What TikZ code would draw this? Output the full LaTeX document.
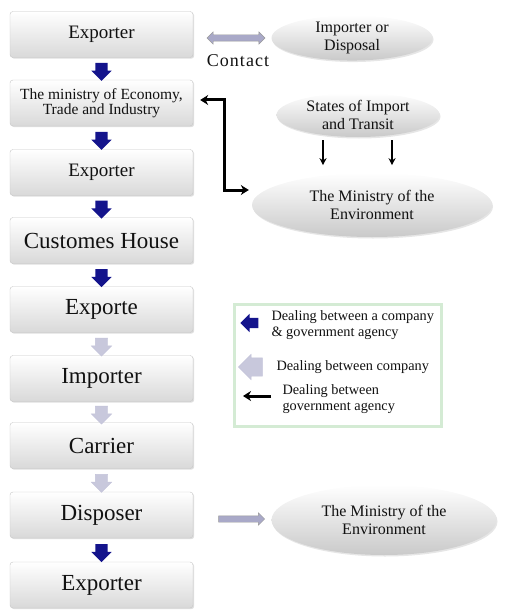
\documentclass[tikz,border=0pt]{standalone}
\usepackage{fontspec}
\setmainfont{Liberation Serif}
\usetikzlibrary{arrows.meta,positioning,calc,shapes.geometric,shapes.arrows,shadows}
\definecolor{Navy}{HTML}{14148C}
\definecolor{Lilac}{HTML}{C8C8DC}
\definecolor{LilacD}{HTML}{A9A9C8}
\definecolor{Edge}{HTML}{A0A0A0}
\definecolor{Mint}{HTML}{D4EBD4}
\definecolor{Ink}{HTML}{111111}
\tikzset{
  stepbox/.style={rectangle,rounded corners=3pt,draw=Edge!60,top color=white,bottom color=gray!30,
    minimum width=183pt,minimum height=46pt,align=center,text=Ink,inner sep=0pt,
    drop shadow={opacity=0.25,shadow xshift=1.2pt,shadow yshift=-1.2pt}},
  oval/.style={ellipse,top color=white,bottom color=gray!42,align=center,inner sep=0pt,text=Ink,
    font=\fontsize{16}{18}\selectfont,
    drop shadow={opacity=0.2,shadow xshift=1pt,shadow yshift=-1.5pt}},
  navyarr/.style={single arrow,shape border rotate=270,fill=Navy,inner xsep=6pt,inner ysep=0pt,
    single arrow head extend=4pt,minimum height=18pt},
  lilacarr/.style={single arrow,shape border rotate=270,fill=Lilac,draw=LilacD!70,line width=0.4pt,
    inner xsep=6pt,inner ysep=0pt,single arrow head extend=4pt,minimum height=18pt},
  govline/.style={draw=black,line width=3pt},
  govtip/.style={govline,{Stealth[length=8pt,width=10pt]}-{Stealth[length=8pt,width=10pt]}},
  legtext/.style={anchor=west,align=left,text=Ink,font=\fontsize{14.3}{16}\selectfont},
}
\begin{document}
\begin{tikzpicture}[x=1pt,y=-1pt]
  \useasboundingbox (0,0) rectangle (504,615);
  % left column of steps
  \foreach \i/\y/\fs/\tx in {1/34.5/19/Exporter,
      2/103/15.5/{The ministry of Economy,\\Trade and Industry},
      3/172.5/19/Exporter, 4/240.5/23/Customes House, 5/309.5/23/Exporte,
      6/378.5/23/Importer, 7/445.5/23/Carrier, 8/515/23/Disposer, 9/585/23/Exporter}
    \node[stepbox,font=\fontsize{\fs}{\fs}\selectfont] (b\i) at (101.5,\y) {\tx};
  \foreach \i/\j/\st in {1/2/navyarr,2/3/navyarr,3/4/navyarr,4/5/navyarr,
      5/6/lilacarr,6/7/lilacarr,7/8/lilacarr,8/9/navyarr}
    \node[\st] (a\i) at ($(b\i.south)!0.5!(b\j.north)$) {};

  % right side
  \node[oval,minimum width=161pt,minimum height=43pt] (imp) at (352,38) {Importer or\\Disposal};
  \node[double arrow,fill=LilacD,draw=gray!80,line width=0.4pt,inner xsep=0pt,inner ysep=3pt,
    double arrow head extend=3pt,minimum height=58pt] (contact) at (236,38) {};
  \node[text=Ink,font=\fontsize{18}{18}\selectfont\addfontfeatures{LetterSpace=6}] (contactlab) at (238,61) {Contact};
  \node[oval,minimum width=163pt,minimum height=44pt] (states) at (358,115) {States of Import\\and Transit};
  \node[oval,minimum width=240pt,minimum height=64pt] (env1) at (372,205) {The Ministry of the\\Environment};
  \draw[govtip] ([xshift=7pt,yshift=3pt]b2.east) -- ++(24,0) |- ([xshift=-3pt,yshift=15pt]env1.west);
  \draw[line width=1.5pt,-{Stealth[length=7pt,width=7pt]}] ([xshift=-35pt,yshift=-3pt]states.south) -- ++(0,25);
  \draw[line width=1.5pt,-{Stealth[length=7pt,width=7pt]}] ([xshift=34pt,yshift=-3pt]states.south) -- ++(0,25);

  % legend
  \node[draw=Mint,line width=3pt,fill=white,minimum width=207pt,minimum height=122pt,inner sep=0pt] (legend) at (338,365.5) {};
  \node[single arrow,shape border rotate=180,fill=Navy,inner xsep=0pt,inner ysep=5pt,
    single arrow head extend=4pt,minimum height=18pt] (legnavy) at (252,323) {};
  \node[legtext] (leg1) at (268,325) {Dealing between a company\\\& government agency};
  \node[single arrow,shape border rotate=180,fill=Lilac,draw=LilacD!70,line width=0.4pt,inner xsep=0pt,
    inner ysep=9pt,single arrow head extend=3.5pt,minimum height=24pt] (leglilac) at (255,367) {};
  \node[legtext] (leg2) at (273,367) {Dealing between company};
  \node[legtext] (leg3) at (279,399) {Dealing between\\government agency};
  \draw[govline,-{Stealth[length=8pt,width=10pt]}] ([xshift=-8pt,yshift=3pt]leg3.west) -- ++(-28,0);

  % bottom right
  \node[oval,minimum width=225pt,minimum height=70pt] (env2) at (384,520) {The Ministry of the\\Environment};
  \node[single arrow,fill=LilacD,draw=gray!80,line width=0.4pt,inner xsep=0pt,inner ysep=3pt,
    single arrow head extend=3pt,minimum height=46pt] (toenv) at (240,519) {};
\end{tikzpicture}
\end{document}
